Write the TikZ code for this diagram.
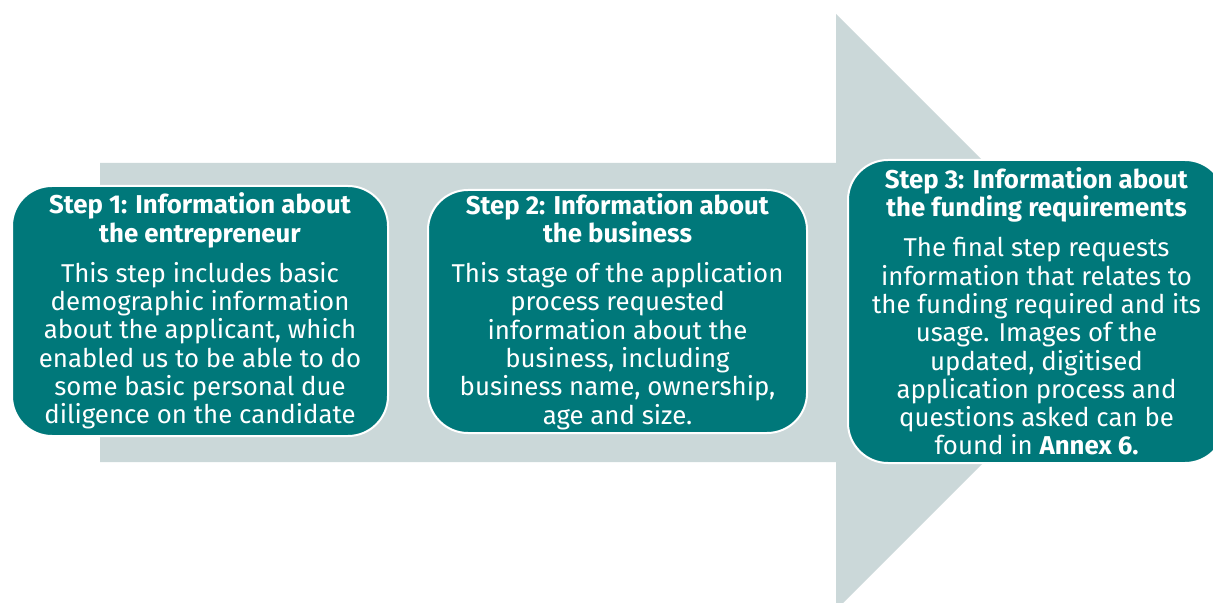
\documentclass[tikz,border=0pt]{standalone}
\usepackage{fontspec}
\setmainfont{Fira Sans}
\definecolor{steptealfill}{HTML}{00787A}
\definecolor{arrowgrey}{HTML}{CBD8D9}
\tikzset{
  stepbox/.style={draw=white, line width=1pt, fill=steptealfill, rounded corners=20pt,
    text=white, align=center, inner sep=0pt,
    font=\fontsize{12.9}{14.15}\selectfont},
}
\begin{document}
\begin{tikzpicture}[x=0.5pt,y=-0.5pt]
  \useasboundingbox (0,0) rectangle (1213,603);
  \clip (0,0) rectangle (1213,603);
  % big process arrow in the background
  \fill[arrowgrey] (100,163) -- (836,163) -- (836,14) -- (1134,312)
    -- (836,610) -- (836,462) -- (100,462) -- cycle;
  % the three steps
  \node[stepbox, minimum width=188pt, minimum height=125pt] (s1) at (200,311)
    {\textbf{Step 1: Information about}\\ \textbf{the entrepreneur}\\[5.85pt]
     This step includes basic\\ demographic information\\ about the applicant, which\\
     enabled us to be able to do\\ some basic personal due\\ diligence on the candidate};
  \node[stepbox, minimum width=189.5pt, minimum height=121.5pt] (s2) at (617.5,311.5)
    {\textbf{Step 2: Information about}\\ \textbf{the business}\\[5.85pt]
     This stage of the application\\ process requested\\ information about the\\
     business, including\\ business name, ownership,\\ age and size.};
  \node[stepbox, minimum width=188.5pt, minimum height=151.5pt] (s3) at (1036.5,311.5)
    {\textbf{Step 3: Information about}\\ \textbf{the funding requirements}\\[5.85pt]
     The final step requests\\ information that relates to\\ the funding required and its\\
     usage. Images of the\\ updated, digitised\\ application process and\\
     questions asked can be\\ found in \textbf{Annex 6.}};
\end{tikzpicture}
\end{document}
